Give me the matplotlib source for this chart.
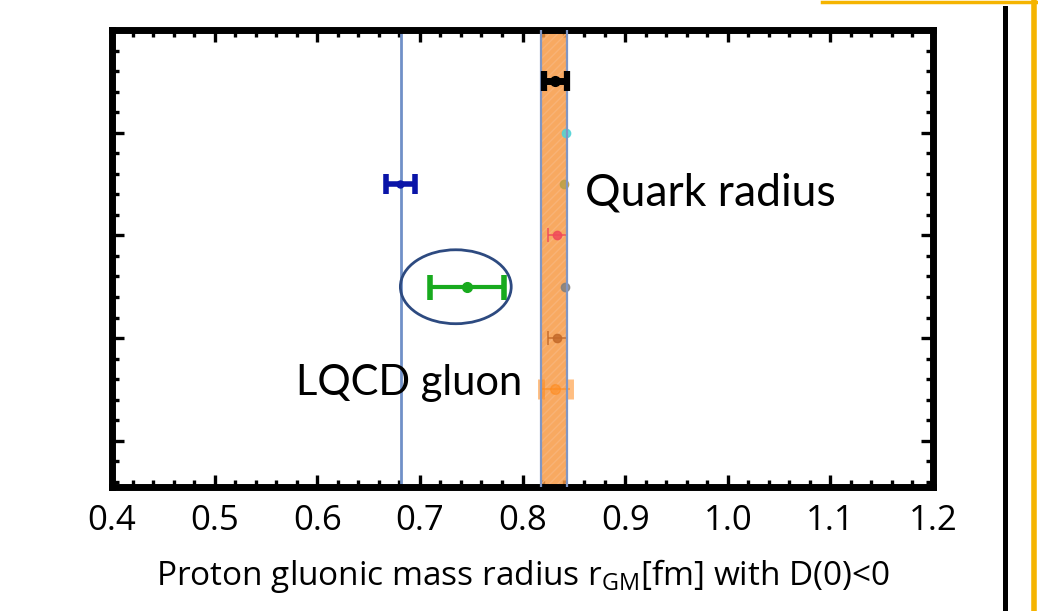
import numpy as np
import matplotlib
matplotlib.use("Agg")
import matplotlib.pyplot as plt
from matplotlib.patches import Ellipse
from matplotlib.lines import Line2D
from matplotlib.ticker import MultipleLocator, FormatStrFormatter

plt.rcParams['font.family'] = ['Open Sans', 'DejaVu Sans']
plt.rcParams['mathtext.fontset'] = 'custom'
plt.rcParams['mathtext.rm'] = 'Open Sans'

# --- data ---
# quark-radius determinations (all inside the orange band)
quark_rows = [1, 2, 3, 4, 5, 6, 7]
quark_vals = [0.832, 0.842, 0.840, 0.834, 0.841, 0.834, 0.832]
quark_errs = [0.011, 0.0, 0.0, 0.009, 0.0, 0.009, 0.014]
quark_colors = ['black', '#4fd3d6', '#b9a048', '#f04a5a', '#808080', '#c46a2a', '#ff8a1c']

# gluon-radius results
blue_row, blue_val, blue_err = 3, 0.681, 0.014
green_row, green_val, green_err = 5, 0.746, 0.036

blue_line = 0.682
band_lo, band_hi = 0.818, 0.843

fig = plt.figure(figsize=(10.38, 6.11), dpi=100)
ax = fig.add_axes([112 / 1038, 1 - 487 / 611, 821 / 1038, 457 / 611])

ax.set_xlim(0.4, 1.2)
ax.set_ylim(8.9, 0)

# band and vertical reference lines
ax.axvspan(band_lo, band_hi, facecolor='#f79a45', edgecolor='#f9b57a',
           hatch='////', linewidth=0, alpha=0.85, zorder=2)
for xv in (band_lo, band_hi):
    ax.axvline(xv, color='#8096c4', linewidth=1.6, zorder=4)
ax.axvline(blue_line, color='#7090c8', linewidth=2.0, zorder=2)

# quark points
for i, (r, v, e, c) in enumerate(zip(quark_rows, quark_vals, quark_errs, quark_colors)):
    if i == 0:
        ax.errorbar(v, r, xerr=e, fmt='o', color=c, ms=7, elinewidth=5,
                    capsize=7, capthick=4.5, zorder=6)
    elif i == len(quark_rows) - 1:
        ax.errorbar(v, r, xerr=e, fmt='o', color=c, ms=7, elinewidth=1.5,
                    capsize=7, capthick=5, alpha=0.55, zorder=3)
    else:
        ax.errorbar(v, r, xerr=e if e > 0 else None, fmt='o', color=c, ms=6,
                    elinewidth=1.2, capsize=5, capthick=1.2, alpha=0.85, zorder=3)

ax.errorbar(blue_val, blue_row, xerr=blue_err, fmt='o', color='#0a14a8', ms=5,
            elinewidth=4, capsize=7, capthick=4, zorder=5)
ax.errorbar(green_val, green_row, xerr=green_err, fmt='o', color='#18aa1e', ms=7,
            elinewidth=3, capsize=9, capthick=4, zorder=5)

ax.add_patch(Ellipse((0.735, 5.0), 0.108, 1.44, fill=False,
                     edgecolor='#2d4a80', linewidth=2, zorder=5))

ax.text(0.861, 3.18, 'Quark radius', fontsize=32, family=['Lato', 'DejaVu Sans'],
        ha='left', va='center', zorder=7)
ax.text(0.579, 6.88, 'LQCD gluon', fontsize=30, family=['Lato', 'DejaVu Sans'],
        ha='left', va='center', zorder=7)

# frame and ticks
for s in ax.spines.values():
    s.set_linewidth(5)
ax.xaxis.set_major_locator(MultipleLocator(0.1))
ax.xaxis.set_minor_locator(MultipleLocator(0.02))
ax.xaxis.set_major_formatter(FormatStrFormatter('%.1f'))
ax.yaxis.set_major_locator(MultipleLocator(2))
ax.yaxis.set_minor_locator(MultipleLocator(0.4))
ax.tick_params(which='both', direction='in', top=True, right=True, width=2.4)
ax.tick_params(which='major', length=8.5, pad=12, labelsize=25)
ax.tick_params(which='minor', length=5)
ax.tick_params(axis='y', labelleft=False)
ax.set_xlabel(r'Proton gluonic mass radius r$_{\mathrm{GM}}$[fm] with D(0)<0',
              fontsize=24, labelpad=14)

# slide decorations on the right
fig.add_artist(Line2D([1005 / 1038, 1005 / 1038], [0, 1 - 8 / 611],
                      transform=fig.transFigure, color='black', linewidth=3.6))
fig.add_artist(Line2D([1034 / 1038, 1034 / 1038], [0, 1],
                      transform=fig.transFigure, color='#f5b400', linewidth=4))
fig.add_artist(Line2D([822 / 1038, 1], [1 - 1.5 / 611, 1 - 1.5 / 611],
                      transform=fig.transFigure, color='#f5b400', linewidth=2.5))

fig.savefig('out.png', dpi=100)
